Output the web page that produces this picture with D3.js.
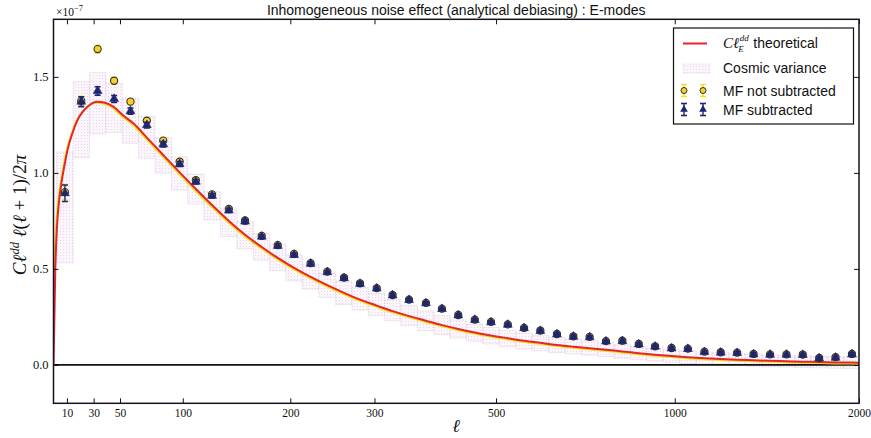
<!DOCTYPE html>
<html><head><meta charset="utf-8">
<script src="https://cdn.jsdelivr.net/npm/d3@7"></script>
<style>
html,body{margin:0;padding:0;background:#fff;}
svg{display:block;}
</style></head>
<body>
<svg id="chart" width="871" height="438"></svg>
<script>
// ---------- data (values in units of 1e-7) ----------
const binEll = [8.5, 20.7, 33.0, 45.5, 58.1, 70.9, 84.0, 97.4, 111, 125, 140, 155, 171, 187, 204, 222, 241, 261, 281, 303, 325, 349, 375, 401, 429, 459, 490, 524, 559, 596, 636, 678, 722, 769, 819, 872, 928, 988, 1051, 1119, 1190, 1266, 1347, 1433, 1524, 1620, 1723, 1832, 1948];
const mfSub = [0.894, 1.371, 1.427, 1.385, 1.322, 1.249, 1.149, 1.046, 0.954, 0.881, 0.805, 0.747, 0.668, 0.620, 0.573, 0.527, 0.483, 0.452, 0.422, 0.398, 0.362, 0.338, 0.321, 0.291, 0.258, 0.234, 0.222, 0.209, 0.191, 0.177, 0.159, 0.147, 0.144, 0.122, 0.124, 0.107, 0.095, 0.086, 0.083, 0.067, 0.064, 0.062, 0.055, 0.053, 0.053, 0.052, 0.034, 0.038, 0.055];
const mfSubErr = [0.043, 0.026, 0.022, 0.018, 0.016, 0.015, 0.014, 0.013, 0.012, 0.012, 0.011, 0.011, 0.010, 0.010, 0.010, 0.010, 0.009, 0.009, 0.009, 0.009, 0.009, 0.009, 0.008, 0.008, 0.008, 0.008, 0.008, 0.008, 0.008, 0.008, 0.008, 0.008, 0.008, 0.008, 0.008, 0.008, 0.008, 0.008, 0.008, 0.008, 0.008, 0.008, 0.008, 0.008, 0.008, 0.008, 0.008, 0.008, 0.008];
const mfNotSub = [0.900, 1.375, 1.645, 1.480, 1.371, 1.272, 1.168, 1.058, 0.962, 0.888, 0.812, 0.752, 0.672, 0.624, 0.578, 0.530, 0.486, 0.455, 0.425, 0.400, 0.364, 0.340, 0.323, 0.293, 0.260, 0.236, 0.224, 0.211, 0.193, 0.179, 0.161, 0.149, 0.146, 0.124, 0.126, 0.109, 0.097, 0.088, 0.085, 0.069, 0.066, 0.064, 0.057, 0.055, 0.055, 0.054, 0.036, 0.040, 0.057];
const mfNotSubErr = [0.040, 0.025, 0.020, 0.017, 0.015, 0.014, 0.013, 0.012, 0.012, 0.011, 0.011, 0.010, 0.010, 0.010, 0.010, 0.009, 0.009, 0.009, 0.009, 0.009, 0.009, 0.008, 0.008, 0.008, 0.008, 0.008, 0.008, 0.008, 0.008, 0.008, 0.008, 0.008, 0.008, 0.008, 0.008, 0.008, 0.008, 0.008, 0.008, 0.008, 0.008, 0.008, 0.008, 0.008, 0.008, 0.008, 0.008, 0.008, 0.008];
const cvLow = [0.531, 1.079, 1.203, 1.211, 1.154, 1.076, 0.998, 0.911, 0.838, 0.755, 0.668, 0.604, 0.545, 0.492, 0.438, 0.395, 0.352, 0.314, 0.286, 0.258, 0.230, 0.204, 0.179, 0.158, 0.140, 0.123, 0.109, 0.095, 0.084, 0.074, 0.064, 0.057, 0.051, 0.043, 0.035, 0.027, 0.019, 0.013, 0.007, 0.003, -0.001, -0.004, -0.007, -0.010, -0.011, -0.013, -0.015, -0.017, -0.018];
const cvHigh = [1.109, 1.475, 1.522, 1.467, 1.389, 1.293, 1.185, 1.084, 0.994, 0.902, 0.812, 0.746, 0.685, 0.628, 0.572, 0.525, 0.478, 0.436, 0.404, 0.372, 0.340, 0.310, 0.281, 0.256, 0.234, 0.213, 0.195, 0.179, 0.166, 0.154, 0.142, 0.133, 0.125, 0.115, 0.105, 0.095, 0.087, 0.079, 0.073, 0.067, 0.063, 0.058, 0.055, 0.052, 0.049, 0.047, 0.045, 0.043, 0.042];
const theoryEll = [0, 1.34, 2.6, 4.09, 5.95, 8.19, 10.8, 13.8, 17.5, 22.0, 27.2, 32.5, 38.6, 44.9, 52.3, 60.3, 70.9, 84, 97.4, 111.2, 125.4, 140, 155, 171, 187, 204, 222, 241, 261, 281, 303, 325, 349, 375, 401, 429, 459, 490, 524, 559, 596, 636, 678, 722, 769, 819, 872, 928, 988, 1051, 1119, 1190, 1266, 1347, 1433, 1524, 1620, 1723, 1832, 1948, 2000];
const theoryVal = [0, 0.5, 0.72, 0.85, 0.95, 1.04, 1.13, 1.2, 1.27, 1.32, 1.355, 1.371, 1.365, 1.345, 1.30, 1.258, 1.184, 1.093, 1.003, 0.915, 0.830, 0.750, 0.678, 0.614, 0.557, 0.505, 0.458, 0.415, 0.375, 0.340, 0.309, 0.280, 0.254, 0.230, 0.207, 0.187, 0.169, 0.153, 0.139, 0.126, 0.115, 0.104, 0.095, 0.087, 0.079, 0.070, 0.061, 0.053, 0.046, 0.040, 0.035, 0.031, 0.027, 0.024, 0.021, 0.019, 0.017, 0.015, 0.013, 0.012, 0.011];
const xTicks = [10, 30, 50, 100, 200, 300, 500, 1000, 2000];
const yTicks = [0, 0.5, 1.0, 1.5];
const yTickLabels = ["0.0", "0.5", "1.0", "1.5"];
const titleText = "Inhomogeneous noise effect (analytical debiasing) : E-modes";
const legendLabels = ["theoretical", "Cosmic variance", "MF not subtracted", "MF subtracted"];

// ---------- layout ----------
const L = 53.5, R = 859, T = 19.3, B = 403.3;
const ASINH_L = 200;
const svg = d3.select("#chart");
const serif = "'Liberation Serif','DejaVu Serif',serif";
const sans = "'Liberation Sans',Arial,Helvetica,sans-serif";

// asinh-warped x scale built on a d3 linear scale
const xLin = d3.scaleLinear().domain([0, Math.asinh(2000 / ASINH_L)]).range([L, R]);
function makeX() {
  const s = v => xLin(Math.asinh(v / ASINH_L));
  s.copy = () => makeX();
  s.range = () => xLin.range();
  s.domain = () => [0, 2000];
  return s;
}
const x = makeX();
const y = d3.scaleLinear().domain([-0.2, 1.8]).range([B, T]);

const COL_RED = "#e3262e", COL_YEL = "#f2e01c", COL_NAVY = "#1e2670", COL_GOLD = "#f3cf35";

// clip
svg.append("defs").append("clipPath").attr("id", "clip")
  .append("rect").attr("x", L).attr("y", T).attr("width", R - L).attr("height", B - T);
const pattern = svg.select("defs").append("pattern").attr("id", "hatch")
  .attr("patternUnits", "userSpaceOnUse").attr("width", 3).attr("height", 3);
pattern.append("rect").attr("width", 3).attr("height", 3).attr("fill", "#fbf6fb");
pattern.append("rect").attr("width", 1).attr("height", 1).attr("fill", "#ead7ec");

const plot = svg.append("g").attr("clip-path", "url(#clip)");

// cosmic variance boxes
const bins = binEll.map((l, i) => ({l, i}));
function binEdges(i) {
  const xc = x(binEll[i]);
  const nb = i < binEll.length - 1 ? x(binEll[i + 1]) : null;
  const pb = i > 0 ? x(binEll[i - 1]) : null;
  const hr = nb !== null ? (nb - xc) / 2 : (xc - pb) / 2;
  const hl = pb !== null ? (xc - pb) / 2 : hr;
  return [xc - hl, xc + hr];
}
plot.selectAll("rect.cv").data(bins).join("rect").attr("class", "cv")
  .attr("x", d => binEdges(d.i)[0])
  .attr("width", d => binEdges(d.i)[1] - binEdges(d.i)[0])
  .attr("y", d => y(cvHigh[d.i]))
  .attr("height", d => y(cvLow[d.i]) - y(cvHigh[d.i]))
  .attr("fill", "url(#hatch)")
  .attr("stroke", "#dcc6e0").attr("stroke-width", 0.7).attr("stroke-dasharray", "1.5,1");

// zero line
plot.append("line").attr("x1", L).attr("x2", R).attr("y1", y(0)).attr("y2", y(0))
  .attr("stroke", "#111").attr("stroke-width", 1.6);

// theory curves
const theory = theoryEll.map((l, i) => [l, theoryVal[i]]);
const line = d3.line().x(d => x(d[0])).y(d => y(d[1])).curve(d3.curveMonotoneX);
plot.append("path").datum(theory).attr("d", line).attr("fill", "none")
  .attr("stroke", COL_YEL).attr("stroke-width", 2).attr("transform", "translate(-1,1)");
plot.append("path").datum(theory).attr("d", line).attr("fill", "none")
  .attr("stroke", COL_RED).attr("stroke-width", 2);

// MF not subtracted (yellow circles)
const gY = plot.append("g");
bins.forEach(d => {
  const cx = x(d.l), v = mfNotSub[d.i], e = mfNotSubErr[d.i];
  gY.append("line").attr("x1", cx).attr("x2", cx).attr("y1", y(v - e)).attr("y2", y(v + e))
    .attr("stroke", COL_YEL).attr("stroke-width", 1.3);
  [v - e, v + e].forEach(c => gY.append("line").attr("x1", cx - 3).attr("x2", cx + 3)
    .attr("y1", y(c)).attr("y2", y(c)).attr("stroke", COL_YEL).attr("stroke-width", 1.3));
  gY.append("circle").attr("cx", cx).attr("cy", y(v)).attr("r", 3.6)
    .attr("fill", COL_GOLD).attr("stroke", "#3a3210").attr("stroke-width", 1.1);
});

// MF subtracted (navy triangles)
const gB = plot.append("g");
const tri = d3.symbol(d3.symbolTriangle).size(34);
bins.forEach(d => {
  const cx = x(d.l), v = mfSub[d.i], e = mfSubErr[d.i];
  gB.append("line").attr("x1", cx).attr("x2", cx).attr("y1", y(v - e)).attr("y2", y(v + e))
    .attr("stroke", COL_NAVY).attr("stroke-width", 1.3);
  [v - e, v + e].forEach(c => gB.append("line").attr("x1", cx - 3).attr("x2", cx + 3)
    .attr("y1", y(c)).attr("y2", y(c)).attr("stroke", COL_NAVY).attr("stroke-width", 1.6));
  gB.append("path").attr("d", tri).attr("transform", `translate(${cx},${y(v)})`)
    .attr("fill", COL_NAVY).attr("stroke", COL_NAVY).attr("stroke-width", 0.6);
});

// axes
const axB = svg.append("g").attr("transform", `translate(0,${B})`)
  .call(d3.axisBottom(x).tickValues(xTicks).tickFormat(d => d).tickSize(-5).tickPadding(6));
const axT = svg.append("g").attr("transform", `translate(0,${T})`)
  .call(d3.axisTop(x).tickValues(xTicks).tickFormat("").tickSize(-5));
const axL = svg.append("g").attr("transform", `translate(${L},0)`)
  .call(d3.axisLeft(y).tickValues(yTicks).tickFormat((d, i) => yTickLabels[i]).tickSize(-5).tickPadding(5));
const axR = svg.append("g").attr("transform", `translate(${R},0)`)
  .call(d3.axisRight(y).tickValues(yTicks).tickFormat("").tickSize(-5));
[axB, axT, axL, axR].forEach(a => {
  a.select(".domain").remove();
  a.selectAll(".tick line").attr("stroke", "#111").attr("stroke-width", 1);
  a.selectAll("text").attr("font-family", serif).attr("fill", "#111");
});
axB.selectAll("text").attr("font-size", 11.5);
axL.selectAll("text").attr("font-size", 12.5);

// frame
svg.append("rect").attr("x", L).attr("y", T).attr("width", R - L).attr("height", B - T)
  .attr("fill", "none").attr("stroke", "#1a1020").attr("stroke-width", 1.5);

// title
svg.append("text").attr("x", (L + R) / 2).attr("y", 15).attr("text-anchor", "middle")
  .attr("font-family", sans).attr("font-size", 14).attr("fill", "#111").text(titleText);

// multiplier
const mult = svg.append("text").attr("x", 56).attr("y", 16).attr("font-family", serif)
  .attr("font-size", 11.5).attr("fill", "#111");
mult.append("tspan").text("×10");
mult.append("tspan").attr("dy", -5).attr("font-size", 8.5).text("−7");

// x label
svg.append("text").attr("x", 456).attr("y", 432).attr("text-anchor", "middle")
  .attr("font-family", serif).attr("font-style", "italic").attr("font-size", 18).attr("fill", "#111").text("ℓ");

// y label
const yl = svg.append("text").attr("transform", "translate(26,215) rotate(-90)")
  .attr("text-anchor", "middle").attr("font-family", serif).attr("font-size", 19).attr("fill", "#111");
yl.append("tspan").attr("font-style", "italic").text("Cℓ");
yl.append("tspan").attr("font-style", "italic").attr("font-size", 12.5).attr("dy", -7).text("dd");
yl.append("tspan").attr("dy", 7).attr("font-style", "italic").text(" ℓ");
yl.append("tspan").text("(");
yl.append("tspan").attr("font-style", "italic").text("ℓ");
yl.append("tspan").text(" + 1)/2");
yl.append("tspan").attr("font-style", "italic").text("π");

// legend
const lg = svg.append("g");
lg.append("rect").attr("x", 673.5).attr("y", 28).attr("width", 180).attr("height", 96)
  .attr("fill", "#fff").attr("stroke", "#111").attr("stroke-width", 1.2);
const rowY = [43.5, 68.5, 90.5, 109.5];
const tx = 723;
lg.append("line").attr("x1", 683).attr("x2", 707).attr("y1", rowY[0]).attr("y2", rowY[0])
  .attr("stroke", COL_RED).attr("stroke-width", 2);
const c1 = lg.append("text").attr("x", tx).attr("y", 48).attr("font-family", serif)
  .attr("font-style", "italic").attr("font-size", 15).attr("fill", "#111").text("Cℓ");
const cw = c1.node().getComputedTextLength();
lg.append("text").attr("x", tx + cw + 0.5).attr("y", 41).attr("font-family", serif)
  .attr("font-style", "italic").attr("font-size", 9).attr("fill", "#111").text("dd");
lg.append("text").attr("x", tx + cw - 1).attr("y", 52).attr("font-family", serif)
  .attr("font-style", "italic").attr("font-size", 9).attr("fill", "#111").text("E");
lg.append("text").attr("x", tx + cw + 14).attr("y", 48).attr("font-family", sans)
  .attr("font-size", 14).attr("fill", "#111").text(" " + legendLabels[0]);
lg.append("rect").attr("x", 683).attr("y", rowY[1] - 4.5).attr("width", 27).attr("height", 9)
  .attr("fill", "url(#hatch)").attr("stroke", "#e2cfe5").attr("stroke-width", 0.7).attr("stroke-dasharray", "1.5,1");
lg.append("text").attr("x", tx).attr("y", 73).attr("font-family", sans).attr("font-size", 14).attr("fill", "#111").text(legendLabels[1]);
[684, 703].forEach(mx => {
  lg.append("line").attr("x1", mx).attr("x2", mx).attr("y1", rowY[2] - 6).attr("y2", rowY[2] + 6).attr("stroke", COL_YEL).attr("stroke-width", 1.4);
  [rowY[2] - 6, rowY[2] + 6].forEach(c => lg.append("line").attr("x1", mx - 3).attr("x2", mx + 3).attr("y1", c).attr("y2", c).attr("stroke", COL_YEL).attr("stroke-width", 1.4));
  lg.append("circle").attr("cx", mx).attr("cy", rowY[2]).attr("r", 3).attr("fill", COL_GOLD).attr("stroke", "#3a3210").attr("stroke-width", 1);
  lg.append("line").attr("x1", mx).attr("x2", mx).attr("y1", rowY[3] - 6).attr("y2", rowY[3] + 6).attr("stroke", COL_NAVY).attr("stroke-width", 1.4);
  [rowY[3] - 6, rowY[3] + 6].forEach(c => lg.append("line").attr("x1", mx - 3).attr("x2", mx + 3).attr("y1", c).attr("y2", c).attr("stroke", COL_NAVY).attr("stroke-width", 1.6));
  lg.append("path").attr("d", d3.symbol(d3.symbolTriangle).size(26)).attr("transform", `translate(${mx},${rowY[3]})`).attr("fill", COL_NAVY);
});
lg.append("text").attr("x", tx).attr("y", 96).attr("font-family", sans).attr("font-size", 14).attr("fill", "#111").text(legendLabels[2]);
lg.append("text").attr("x", tx).attr("y", 115).attr("font-family", sans).attr("font-size", 14).attr("fill", "#111").text(legendLabels[3]);
</script>
</body></html>
